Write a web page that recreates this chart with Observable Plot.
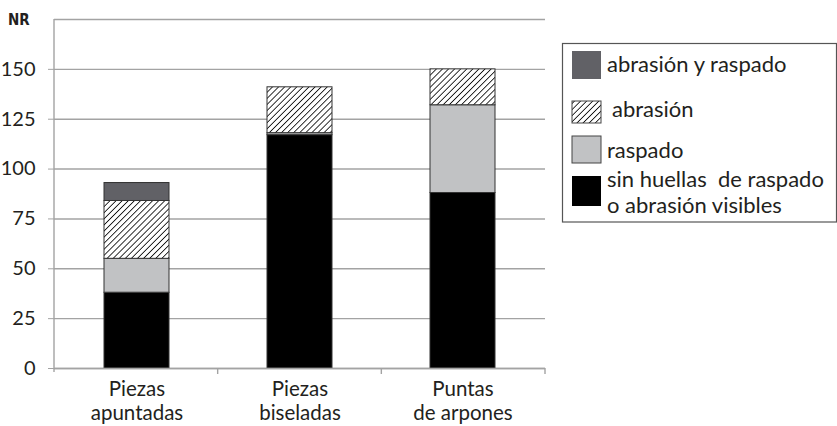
<!DOCTYPE html>
<html>
<head>
<meta charset="utf-8">
<script src="https://cdn.jsdelivr.net/npm/d3@7"></script>
<script src="https://cdn.jsdelivr.net/npm/@observablehq/plot@0.6"></script>
<style>
  html, body { margin: 0; padding: 0; background: #fff; }
  #chart { position: relative; width: 837px; height: 426px; }
  svg { font-family: Lato, sans-serif; }
</style>
</head>
<body>
<div id="chart"></div>
<script>
// ---- data ----
const categories = ["Piezas\napuntadas", "Piezas\nbiseladas", "Puntas\nde arpones"];
const seriesNames = ["sin huellas  de raspado\no abrasión visibles", "raspado", "abrasión", "abrasión y raspado"];
const sinHuellas = [38, 117, 88];
const raspado = [17, 1, 44];
const abrasion = [29, 23, 18];
const abrasionRaspado = [9, 0, 0];
const yTicks = [0, 25, 50, 75, 100, 125, 150];
const gridTicks = [0, 25, 50, 75, 100, 125, 150, 175];
const yLabel = "NR";
const legendOrder = ["abrasión y raspado", "abrasión", "raspado", "sin huellas  de raspado\no abrasión visibles"];
const fills = ["#000000", "#c1c2c4", "url(#hatch)", "#616166"];

const valuesBySeries = [sinHuellas, raspado, abrasion, abrasionRaspado];
const rows = [];
seriesNames.forEach((s, si) => categories.forEach((c, ci) => rows.push({cat: c, series: s, value: valuesBySeries[si][ci]})));

const plot = Plot.plot({
  width: 837,
  height: 426,
  marginLeft: 54,
  marginRight: 292,
  marginTop: 19,
  marginBottom: 58,
  style: {fontFamily: "Lato, sans-serif", fontSize: "20px", color: "#231f20", background: "#fff"},
  x: {domain: categories, paddingInner: 0.6, paddingOuter: 0.3, label: null},
  y: {domain: [0, 175], label: null},
  color: {domain: seriesNames, range: fills},
  marks: [
    Plot.gridY(gridTicks, {stroke: "#a3a3a3", strokeOpacity: 1, strokeWidth: 1.4}),
    Plot.axisY(yTicks, {tickSize: 6, stroke: "#a3a3a3", tickPadding: 13, fontSize: 20, fill: "#231f20"}),
    Plot.axisX({tickSize: 0, tickPadding: 10, fontSize: 20.5, lineHeight: 1.17, fill: "#231f20"}),
    Plot.barY(rows.filter(d => d.value > 0), Plot.stackY({order: seriesNames}, {x: "cat", y: "value", fill: "series", stroke: "#333", strokeWidth: 1})),
    Plot.ruleY([0], {stroke: "#a3a3a3", strokeWidth: 1.4})
  ]
});

const svg = d3.select(plot);
// hatch pattern
const defs = svg.insert("defs", ":first-child");
const pat = defs.append("pattern").attr("id", "hatch").attr("patternUnits", "userSpaceOnUse")
  .attr("width", 4.3).attr("height", 4.3).attr("patternTransform", "rotate(45)");
pat.append("rect").attr("width", 4.3).attr("height", 4.3).attr("fill", "#fff");
pat.append("line").attr("x1", 0).attr("y1", 0).attr("x2", 0).attr("y2", 4.3).attr("stroke", "#000").attr("stroke-width", 1.6);

// axis lines derived from scales
const xs = plot.scale("x"), ys = plot.scale("y");
const x0 = xs.range[0], x1 = xs.range[1];
const yBase = ys.apply(0), yTop = ys.apply(175);
const g = svg.append("g").attr("stroke", "#a3a3a3").attr("stroke-width", 1.4);
g.append("line").attr("x1", x0).attr("x2", x0).attr("y1", yTop).attr("y2", yBase + 4);
const step = (x1 - x0) / categories.length;
categories.forEach((c, i) => {
  const xb = x0 + step * (i + 1);
  g.append("line").attr("x1", xb).attr("x2", xb).attr("y1", yBase).attr("y2", yBase + 6);
});
// NR label
svg.append("text").attr("x", 8).attr("y", yTop + 6).attr("text-anchor", "start")
  .attr("font-family", "DejaVu Sans Condensed, sans-serif")
  .attr("font-weight", "bold").attr("font-size", 15).attr("fill", "#231f20").text(yLabel);

// legend
const lg = svg.append("g").attr("font-family", "Lato, sans-serif").attr("font-size", 22)
  .attr("fill", "#231f20").attr("text-anchor", "start");
lg.append("rect").attr("x", 562.5).attr("y", 43.5).attr("width", 274).attr("height", 178.5)
  .attr("fill", "#fff").attr("stroke", "#555").attr("stroke-width", 1.2);
const swatchY = [51, 101, 136, 176];
const swatchH = [28, 22, 27, 30];
const textY = [[72], [117], [158], [187, 213]];
legendOrder.forEach((s, i) => {
  const si = seriesNames.indexOf(s);
  lg.append("rect").attr("x", 572).attr("y", swatchY[i]).attr("width", 29).attr("height", swatchH[i])
    .attr("fill", fills[si]).attr("stroke", si === 0 || si === 3 ? "none" : "#444").attr("stroke-width", 1);
  const lines = s.split("\n");
  lines.forEach((ln, j) => {
    lg.append("text").attr("x", i === 1 ? 612 : 607).attr("y", textY[i][j]).attr("xml:space", "preserve")
      .style("white-space", "pre").text(ln);
  });
});

document.getElementById("chart").appendChild(plot);
</script>
</body>
</html>
